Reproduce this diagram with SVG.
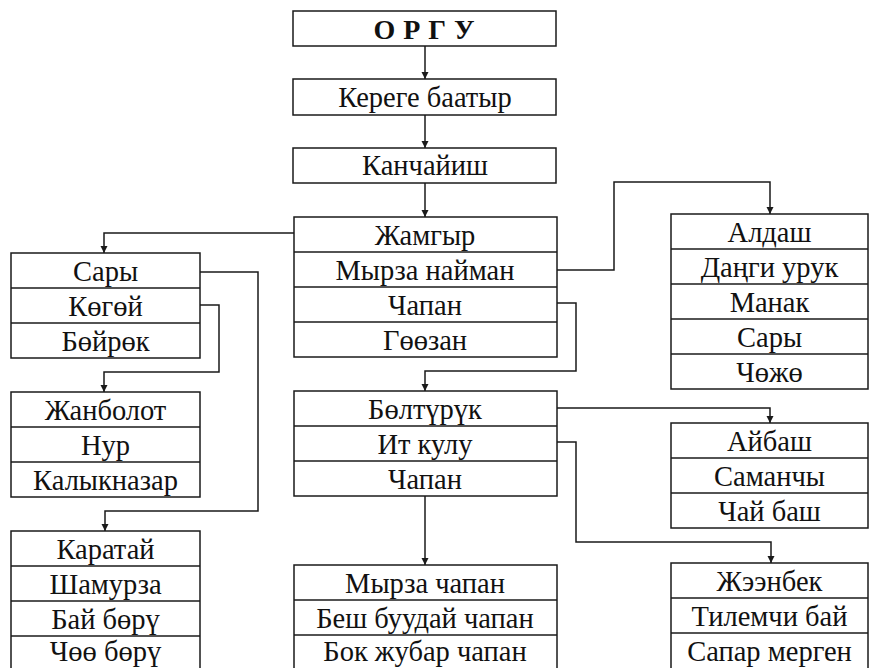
<svg xmlns="http://www.w3.org/2000/svg" width="869" height="668" viewBox="0 0 869 668">
<defs>
<style>
rect.b{fill:#fff;stroke:#1a1a1a;stroke-width:1.5}
line.s{stroke:#1a1a1a;stroke-width:1.3}
text{font-size:28.5px;fill:#111;text-anchor:middle}
text.t{font-weight:bold;font-size:28px;letter-spacing:8px}
.c{fill:none;stroke:#1a1a1a;stroke-width:1.5;marker-end:url(#ah)}
</style>
<marker id="ah" viewBox="0 0 10 10" refX="10" refY="5" markerWidth="7" markerHeight="9" markerUnits="userSpaceOnUse" orient="auto">
<path d="M0,0 L10,5 L0,10 z" fill="#1a1a1a"/>
</marker>
</defs>
<rect width="869" height="668" fill="#fff"/>
<g id="connectors">
<path class="c" d="M425,46 V79"/>
<path class="c" d="M425,115 V148"/>
<path class="c" d="M425,183 V217"/>
<path class="c" d="M294,233 H104 V253"/>
<path class="c" d="M557,270 H614 V182 H770 V214"/>
<path class="c" d="M557,303 H576 V371 H425 V391"/>
<path class="c" d="M200,272 H258 V511 H105 V531"/>
<path class="c" d="M200,305 H219 V372 H104 V392"/>
<path class="c" d="M557,408 H770 V423"/>
<path class="c" d="M557,442 H576 V542 H771 V563"/>
<path class="c" d="M425,496 V565"/>
</g>
<g id="orgu">
<rect class="b" x="293" y="11" width="263" height="35"/>
<text class="t" x="428" y="39" style="font-family:'Liberation Serif'">ОРГУ</text>
</g>
<g id="kerege">
<rect class="b" x="293" y="79" width="263" height="36"/>
<text x="425" y="107" style="font-family:'Liberation Serif'">Кереге баатыр</text>
</g>
<g id="kanchaiish">
<rect class="b" x="293" y="148" width="263" height="35"/>
<text x="425" y="175" style="font-family:'Liberation Serif'">Канчайиш</text>
</g>
<g id="jamgyr">
<rect class="b" x="294" y="217" width="263" height="140"/>
<line class="s" x1="294" y1="252" x2="557" y2="252"/>
<line class="s" x1="294" y1="287" x2="557" y2="287"/>
<line class="s" x1="294" y1="322" x2="557" y2="322"/>
<text x="425" y="245" style="font-family:'Liberation Serif'">Жамгыр</text>
<text x="425" y="280" style="font-family:'Liberation Serif'">Мырза найман</text>
<text x="425" y="315" style="font-family:'Liberation Serif'">Чапан</text>
<text x="425" y="350" style="font-family:'Liberation Serif'">Гөөзан</text>
</g>
<g id="sary">
<rect class="b" x="11" y="253" width="189" height="105"/>
<line class="s" x1="11" y1="288" x2="200" y2="288"/>
<line class="s" x1="11" y1="323" x2="200" y2="323"/>
<text x="105.5" y="281" style="font-family:'Liberation Serif'">Сары</text>
<text x="105.5" y="316" style="font-family:'Liberation Serif'">Көгөй</text>
<text x="105.5" y="351" style="font-family:'Liberation Serif'">Бөйрөк</text>
</g>
<g id="janbolot">
<rect class="b" x="11" y="392" width="189" height="105"/>
<line class="s" x1="11" y1="427" x2="200" y2="427"/>
<line class="s" x1="11" y1="462" x2="200" y2="462"/>
<text x="105.5" y="420" style="font-family:'Liberation Serif'">Жанболот</text>
<text x="105.5" y="455" style="font-family:'Liberation Serif'">Нур</text>
<text x="105.5" y="490" style="font-family:'Liberation Serif'">Калыкназар</text>
</g>
<g id="karatai">
<rect class="b" x="11" y="531" width="189" height="140"/>
<line class="s" x1="11" y1="566" x2="200" y2="566"/>
<line class="s" x1="11" y1="601" x2="200" y2="601"/>
<line class="s" x1="11" y1="636" x2="200" y2="636"/>
<text x="105.5" y="559" style="font-family:'Liberation Serif'">Каратай</text>
<text x="105.5" y="594" style="font-family:'Liberation Serif'">Шамурза</text>
<text x="105.5" y="629" style="font-family:'Liberation Serif'">Бай бөрү</text>
<text x="105.5" y="661" style="font-family:'Liberation Serif'">Чөө бөрү</text>
</g>
<g id="aldash">
<rect class="b" x="671" y="214" width="197" height="175"/>
<line class="s" x1="671" y1="249" x2="868" y2="249"/>
<line class="s" x1="671" y1="284" x2="868" y2="284"/>
<line class="s" x1="671" y1="319" x2="868" y2="319"/>
<line class="s" x1="671" y1="354" x2="868" y2="354"/>
<text x="769.5" y="242" style="font-family:'Liberation Serif'">Алдаш</text>
<text x="769.5" y="277" style="font-family:'Liberation Serif'">Даңги урук</text>
<text x="769.5" y="312" style="font-family:'Liberation Serif'">Манак</text>
<text x="769.5" y="347" style="font-family:'Liberation Serif'">Сары</text>
<text x="769.5" y="382" style="font-family:'Liberation Serif'">Чөжө</text>
</g>
<g id="bolturuk">
<rect class="b" x="294" y="391" width="263" height="105"/>
<line class="s" x1="294" y1="426" x2="557" y2="426"/>
<line class="s" x1="294" y1="461" x2="557" y2="461"/>
<text x="425" y="419" style="font-family:'Liberation Serif'">Бөлтүрүк</text>
<text x="425" y="454" style="font-family:'Liberation Serif'">Ит кулу</text>
<text x="425" y="489" style="font-family:'Liberation Serif'">Чапан</text>
</g>
<g id="aibash">
<rect class="b" x="671" y="423" width="197" height="105"/>
<line class="s" x1="671" y1="458" x2="868" y2="458"/>
<line class="s" x1="671" y1="493" x2="868" y2="493"/>
<text x="769.5" y="451" style="font-family:'Liberation Serif'">Айбаш</text>
<text x="769.5" y="486" style="font-family:'Liberation Serif'">Саманчы</text>
<text x="769.5" y="521" style="font-family:'Liberation Serif'">Чай баш</text>
</g>
<g id="myrza-chapan">
<rect class="b" x="294" y="565" width="263" height="105"/>
<line class="s" x1="294" y1="600" x2="557" y2="600"/>
<line class="s" x1="294" y1="635" x2="557" y2="635"/>
<text x="425" y="593" style="font-family:'Liberation Serif'">Мырза чапан</text>
<text x="425" y="628" style="font-family:'Liberation Serif'">Беш буудай чапан</text>
<text x="425" y="661" style="font-family:'Liberation Serif'">Бок жубар чапан</text>
</g>
<g id="jeenbek">
<rect class="b" x="671" y="563" width="197" height="107"/>
<line class="s" x1="671" y1="598" x2="868" y2="598"/>
<line class="s" x1="671" y1="633" x2="868" y2="633"/>
<text x="769.5" y="591" style="font-family:'Liberation Serif'">Жээнбек</text>
<text x="769.5" y="626" style="font-family:'Liberation Serif'">Тилемчи бай</text>
<text x="769.5" y="661" style="font-family:'Liberation Serif'">Сапар мерген</text>
</g>
</svg>
